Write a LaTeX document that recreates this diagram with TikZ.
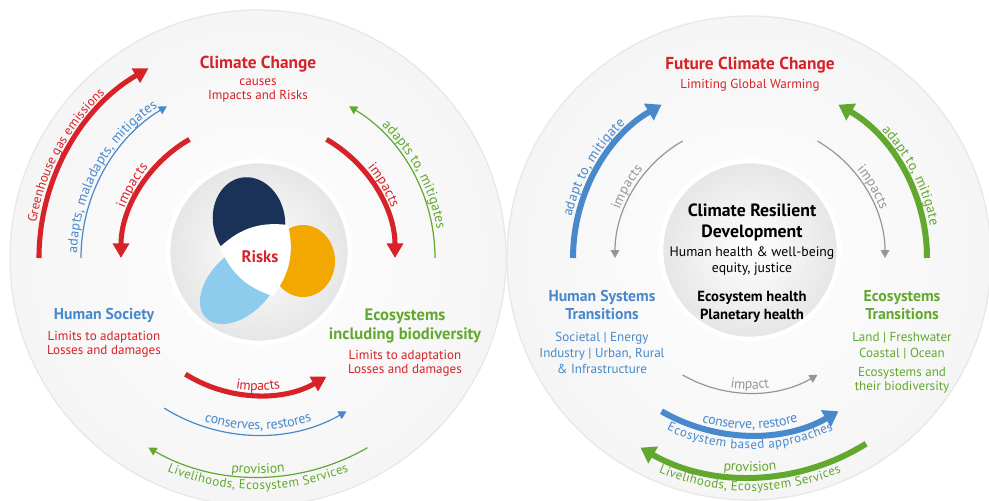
\documentclass[tikz,border=0pt]{standalone}
\usepackage{fontspec}
\setmainfont{PT Sans}
\usetikzlibrary{arrows.meta,positioning,decorations.text,shadows}
\definecolor{ipred}{RGB}{214,34,40}
\definecolor{ipblue}{RGB}{72,136,204}
\definecolor{ipgreen}{RGB}{98,168,46}
\definecolor{ipgray}{RGB}{150,150,150}
\definecolor{ipnavy}{RGB}{27,50,88}
\definecolor{iporange}{RGB}{242,168,0}
\definecolor{ipsky}{RGB}{142,204,238}
\newcommand\arcsize{\fontsize{10.4pt}{12pt}\selectfont}
\newcommand\arcsmall{\fontsize{9.7pt}{11pt}\selectfont}

\begin{document}
\begin{tikzpicture}[x=0.75pt, y=0.75pt, font=\fontsize{9.8pt}{10.5pt}\selectfont, inner sep=0pt,
 disc/.style={draw=gray!18, line width=1pt, inner color=white, outer color=gray!8},
 hub/.style={draw=white, line width=3.5pt, inner color=white, outer color=gray!20,
   drop shadow={opacity=0.22, shadow xshift=0pt, shadow yshift=-1.5pt}},
 title/.style={font=\fontsize{13pt}{15pt}\selectfont\bfseries, text=ipred, align=center},
 head/.style={font=\fontsize{11.8pt}{13.5pt}\selectfont\bfseries, align=center},
 sub/.style={align=center},
 bigarr/.style={line width=3.8pt, -{Triangle[length=11pt,width=12pt]}},
 fatarr/.style={line width=4.5pt, -{Triangle[length=11pt,width=14pt]}},
 thinarr/.style={line width=0.9pt, -{Triangle[length=6pt,width=6.5pt]}},
 lbl/.style n args={3}{decoration={text along path, text={|\arcsize|#1}, text align=center,
   raise=#2, text color=#3}, decorate},
 lblsm/.style n args={3}{decoration={text along path, text={|\arcsmall|#1}, text align=center,
   raise=#2, text color=#3}, decorate}]
\useasboundingbox (0,0) rectangle (989,-500);
\coordinate (lc) at (258,-258); \coordinate (rc) at (750,-258);
\coordinate (lh) at (259,-252); \coordinate (rh) at (750,-250);
\path[disc] (lc) circle[radius=248];
\path[disc] (749,-258) circle[radius=242];
\path[hub] (lh) circle[radius=91];
\path[hub] (rh) circle[radius=89];

% risk petals
\fill[iporange] (303,-261) ellipse[x radius=32, y radius=36];
\fill[ipnavy, rotate around={10:(249,-221)}] (249,-221) ellipse[x radius=36, y radius=44];
\fill[ipsky, rotate around={45:(240,-284)}] (240,-284) ellipse[x radius=48, y radius=30];
\coordinate (la) at (220,-247); \coordinate (lb) at (288,-225); \coordinate (lcc) at (273,-296);
\fill[white] (la) to[bend left=25] (lb) to[bend left=25] (lcc) to[bend left=25] (la);
\node[font=\fontsize{12.5pt}{14pt}\selectfont\bfseries, text=ipred] (risk) at (260,-257) {Risks};

\begin{scope}[shift={(lc)}]
\draw[bigarr, ipred] (180:219) arc[start angle=180, end angle=120, radius=219];
\draw[thinarr, ipblue] (180:177) arc[start angle=180, end angle=121, radius=177];
\draw[bigarr, ipred] (120:137) arc[start angle=120, end angle=180, radius=137];
\draw[bigarr, ipred] (60:137) arc[start angle=60, end angle=0, radius=137];
\draw[thinarr, ipgreen] (0:177) arc[start angle=0, end angle=59, radius=177];
\draw[bigarr, ipred] (238:137) arc[start angle=238, end angle=300, radius=137];
\draw[thinarr, ipblue] (238:177) arc[start angle=238, end angle=300, radius=177];
\draw[thinarr, ipgreen] (300:219) arc[start angle=300, end angle=240, radius=219];
\path[lblsm={Greenhouse gas emissions}{4pt}{ipred}] (192:219) arc[start angle=192, end angle=112, radius=219];
\path[lbl={adapts, maladapts, mitigates}{3pt}{ipblue}] (191:177) arc[start angle=191, end angle=111, radius=177];
\path[lbl={impacts}{4pt}{ipred}] (180:137) arc[start angle=180, end angle=120, radius=137];
\path[lbl={impacts}{4pt}{ipred}] (60:137) arc[start angle=60, end angle=0, radius=137];
\path[lbl={adapts to, mitigates}{3pt}{ipgreen}] (68:177) arc[start angle=68, end angle=-12, radius=177];
\path[lbl={impacts}{3.5pt}{ipred}] (240:137) arc[start angle=240, end angle=300, radius=137];
\path[lbl={conserves, restores}{4pt}{ipblue}] (240:177) arc[start angle=240, end angle=300, radius=177];
\path[lbl={provision}{2.5pt}{ipgreen}] (240:219) arc[start angle=240, end angle=300, radius=219];
\path[lblsm={Livelihoods, Ecosystem Services}{-9.5pt}{ipgreen}] (230:219) arc[start angle=230, end angle=310, radius=219];
\end{scope}

\begin{scope}[shift={(rc)}]
\draw[fatarr, ipblue] (180:177) arc[start angle=180, end angle=120, radius=177];
\draw[thinarr, ipgray] (120:135) arc[start angle=120, end angle=180, radius=135];
\draw[thinarr, ipgray] (60:135) arc[start angle=60, end angle=0, radius=135];
\draw[fatarr, ipgreen] (0:177) arc[start angle=0, end angle=60, radius=177];
\draw[thinarr, ipgray] (240:135) arc[start angle=240, end angle=300, radius=135];
\draw[fatarr, ipblue] (240:177) arc[start angle=240, end angle=300, radius=177];
\draw[fatarr, ipgreen] (302:219) arc[start angle=302, end angle=240, radius=219];
\path[lbl={adapt to, mitigate}{4.5pt}{ipblue}] (190:177) arc[start angle=190, end angle=110, radius=177];
\path[lbl={adapt to, mitigate}{4.5pt}{ipgreen}] (67:177) arc[start angle=67, end angle=-13, radius=177];
\path[lbl={impacts}{3pt}{ipgray}] (180:135) arc[start angle=180, end angle=120, radius=135];
\path[lbl={impacts}{3pt}{ipgray}] (60:135) arc[start angle=60, end angle=0, radius=135];
\path[lbl={impact}{3pt}{ipgray}] (240:135) arc[start angle=240, end angle=300, radius=135];
\path[lbl={conserve, restore}{4.5pt}{ipblue}] (240:177) arc[start angle=240, end angle=300, radius=177];
\path[lblsm={Ecosystem based approaches}{-10.5pt}{ipblue}] (230:177) arc[start angle=230, end angle=310, radius=177];
\path[lbl={provision}{4pt}{ipgreen}] (240:219) arc[start angle=240, end angle=300, radius=219];
\path[lblsm={Livelihoods, Ecosystem Services}{-10.5pt}{ipgreen}] (230:219) arc[start angle=230, end angle=310, radius=219];
\end{scope}

\node[title] (cc) at (258,-64) {Climate Change};
\node[sub, text=ipred, below=5pt of cc] (ccsub) {causes\\Impacts and Risks};
\node[head, text=ipblue] (hs) at (104,-315) {Human Society};
\node[sub, text=ipred, below=6pt of hs] (hslim) {Limits to adaptation\\Losses and damages};
\node[head, text=ipgreen, font=\fontsize{12.4pt}{14.3pt}\selectfont\bfseries] (eco) at (405,-326) {Ecosystems\\including biodiversity};
\node[sub, text=ipred, below=5pt of eco] (ecolim) {Limits to adaptation\\Losses and damages};

\node[title] (fcc) at (750,-65) {Future Climate Change};
\node[sub, text=ipred, below=4pt of fcc] (fccsub) {Limiting Global Warming};
\node[head, font=\fontsize{13.3pt}{15.8pt}\selectfont\bfseries] (crd) at (752,-222) {Climate Resilient\\Development};
\node[sub, font=\fontsize{10.3pt}{12pt}\selectfont, below=4pt of crd] (crdsub) {Human health \& well-being\\equity, justice};
\node[head, font=\fontsize{11pt}{12.8pt}\selectfont\bfseries, below=12pt of crdsub] (eh) {Ecosystem health\\Planetary health};
\node[head, text=ipblue] (hst) at (602,-305) {Human Systems\\Transitions};
\node[sub, text=ipblue, font=\fontsize{9.8pt}{12pt}\selectfont, below=9pt of hst] (hstsub) {Societal | Energy\\Industry | Urban, Rural\\\& Infrastructure};
\node[head, text=ipgreen] (et) at (902,-305) {Ecosystems\\Transitions};
\node[sub, text=ipgreen, font=\fontsize{9.8pt}{12pt}\selectfont, below=9pt of et] (etsub) {Land | Freshwater\\Coastal | Ocean};
\node[sub, text=ipgreen, below=6pt of etsub] (etbio) {Ecosystems and\\their biodiversity};
\end{tikzpicture}
\end{document}
